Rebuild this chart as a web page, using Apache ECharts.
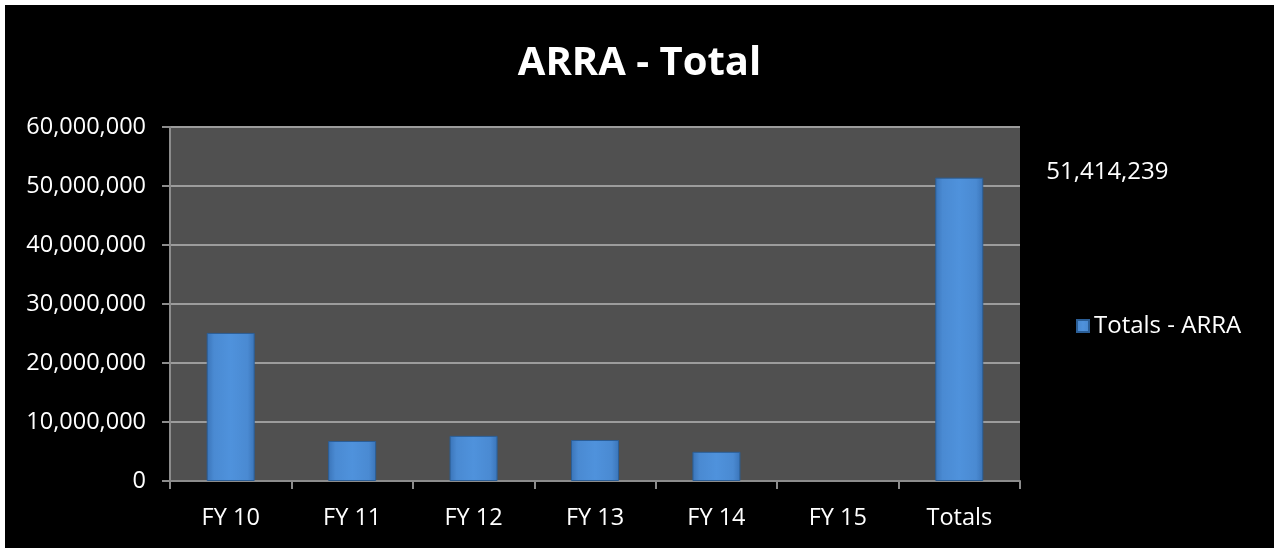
<!DOCTYPE html>
<html>
<head>
<meta charset="utf-8">
<script src="https://cdn.jsdelivr.net/npm/echarts@6/dist/echarts.min.js"></script>
<style>
  html, body { margin: 0; padding: 0; background: #ffffff; }
  #chart { position: absolute; left: 5px; top: 5px; width: 1269px; height: 543px; background: #000000; }
</style>
</head>
<body>
<div id="chart"></div>
<script>
const categories = ['FY 10', 'FY 11', 'FY 12', 'FY 13', 'FY 14', 'FY 15', 'Totals']
const totalsArra = [25100000, 6780000, 7650000, 6950000, 4950000, 0, 51414239]
const yTicks = { min: 0, max: 60000000, interval: 10000000 }

const fontFamily = '"Open Sans", "Liberation Sans", sans-serif'
const fmt = (v) => Number(v).toLocaleString('en-US')

const barColor = new echarts.graphic.LinearGradient(0, 0, 1, 0, [
  { offset: 0, color: '#3a74b8' },
  { offset: 0.15, color: '#4a8ad2' },
  { offset: 0.5, color: '#4f92dc' },
  { offset: 0.85, color: '#4a8ad2' },
  { offset: 1, color: '#3a74b8' }
])

const seriesData = totalsArra.map((v, i) => {
  const item = { value: v }
  // empty bars draw nothing, not even the outline
  if (v === 0) item.itemStyle = { borderWidth: 0 }
  if (i === totalsArra.length - 1) {
    item.label = {
      show: true,
      position: [111, -5],
      align: 'left',
      verticalAlign: 'middle',
      color: '#ffffff',
      fontFamily: fontFamily,
      fontSize: 24,
      formatter: (p) => fmt(p.value)
    }
  }
  return item
})

const chart = echarts.init(document.getElementById('chart'))

const option = {
  backgroundColor: '#000000',
  animation: false,
  title: {
    text: 'ARRA - Total',
    left: 'center',
    top: 34,
    textStyle: { color: '#ffffff', fontFamily: fontFamily, fontWeight: 'bold', fontSize: 40 }
  },
  legend: {
    data: ['Totals - ARRA'],
    left: 1066,
    top: 304,
    icon: 'rect',
    itemWidth: 12,
    itemHeight: 12,
    itemGap: 6,
    textStyle: { color: '#ffffff', fontFamily: fontFamily, fontSize: 24 }
  },
  grid: {
    left: 165,
    right: 254,
    top: 122,
    bottom: 67,
    show: true,
    backgroundColor: '#505050',
    borderWidth: 0
  },
  xAxis: {
    type: 'category',
    data: categories,
    axisLine: { lineStyle: { color: '#8c8c8c', width: 2 } },
    axisTick: { show: true, length: 8, lineStyle: { color: '#8c8c8c', width: 2 } },
    axisLabel: { color: '#ffffff', fontFamily: fontFamily, fontSize: 23.5, margin: 25 }
  },
  yAxis: {
    type: 'value',
    min: yTicks.min,
    max: yTicks.max,
    interval: yTicks.interval,
    axisLine: { show: true, lineStyle: { color: '#8c8c8c', width: 2 } },
    axisTick: { show: true, length: 8, lineStyle: { color: '#8c8c8c', width: 2 } },
    axisLabel: { color: '#ffffff', fontFamily: fontFamily, fontSize: 23.5, margin: 24, formatter: fmt },
    splitLine: { lineStyle: { color: '#9c9c9c', width: 2 } }
  },
  series: [
    {
      name: 'Totals - ARRA',
      type: 'bar',
      barWidth: 48,
      data: seriesData,
      itemStyle: {
        color: barColor,
        borderColor: '#2b5e96',
        borderWidth: 1
      }
    }
  ]
}

chart.setOption(option)
</script>
</body>
</html>
